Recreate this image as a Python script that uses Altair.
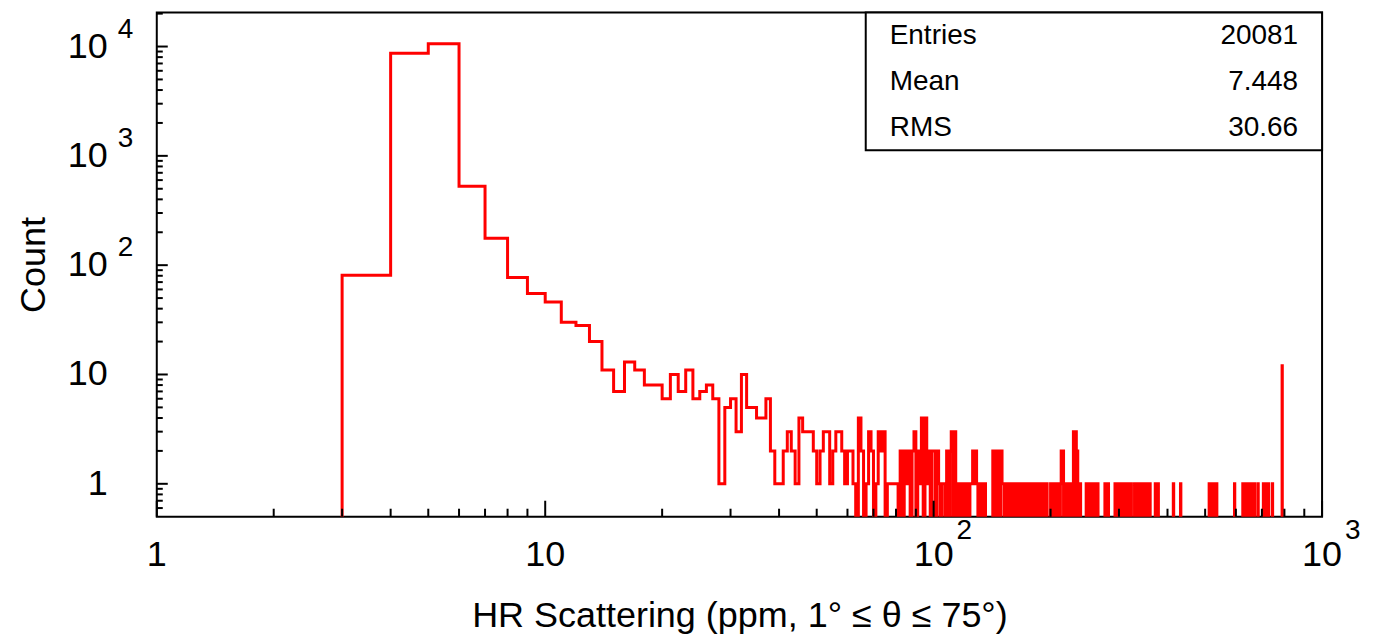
import altair as alt
import pandas as pd

# ---------------- data ----------------
# histogram with bins of width 1 (low edge -> count); bins not listed are empty
bin_edges = [
    3, 4, 5, 6, 7, 8, 9, 10, 11, 12, 13, 14, 15, 16, 17, 18, 19, 20, 21, 22,
    23, 24, 25, 26, 27, 28, 29, 30, 31, 32, 33, 34, 35, 36, 37,
    38, 39, 40, 41, 42, 43, 44, 45, 46, 47, 48, 49, 50, 51, 52, 53, 54, 55,
    56, 57, 58, 59, 60, 61, 62, 64, 65, 67, 68, 69, 71, 72, 73, 74,
    76, 77, 78, 79, 80, 82, 84, 85, 86, 88, 89, 91, 92, 93, 95, 96, 97,
    99, 100, 102, 103, 105, 106, 108, 110, 111, 113, 114,
    116, 118, 119, 121, 122, 124, 125, 126, 127, 128, 129, 131, 132, 134, 135,
    142, 144, 145, 147, 149, 150,
    151, 153, 154, 156, 157, 159, 160, 162,
    165, 166, 168, 170, 171, 173, 175, 176, 178, 179,
    183, 185, 186, 188, 190, 191, 193, 195,
    200, 202, 203, 205, 207, 208, 210, 212,
    213, 214, 215, 217, 219, 222, 224, 226,
    229, 230, 231, 232, 234, 235, 236, 238,
    247, 249, 251, 256, 258, 260, 262, 264,
    276, 278, 281, 293, 296, 299, 302,
    307, 310, 313, 316, 319, 322,
    329, 335, 341, 347, 353, 360,
    372, 378, 414, 432,
    512, 519, 527, 535, 595, 625, 636, 646, 658, 670, 684, 706, 719, 728, 745,
    789,
]
bin_counts = [
    81, 8690, 10590, 526, 176, 77, 55, 46, 30, 28, 20, 11, 7, 13, 11, 8, 8, 6, 10, 7,
    11, 6, 7, 8, 6, 1, 5, 6, 3, 10, 5, 5, 4, 4, 6,
    2, 1, 1, 2, 3, 2, 1, 4, 3, 3, 3, 2, 1, 2, 3, 3, 1, 2,
    3, 3, 2, 1, 2, 2, 1, 4, 2, 1, 3, 2, 1, 3, 2, 3,
    1, 1, 1, 1, 1, 2, 2, 1, 2, 2, 3, 2, 1, 4, 4, 1, 2,
    2, 2, 2, 1, 1, 1, 2, 2, 3, 3, 1,
    1, 1, 1, 1, 1, 1, 1, 2, 1, 2, 1, 1, 1, 1, 1,
    2, 2, 1, 2, 2, 1,
    1, 1, 1, 1, 1, 1, 1, 1,
    1, 1, 1, 1, 1, 1, 1, 1, 1, 1,
    1, 1, 1, 1, 1, 1, 1, 1,
    1, 1, 1, 1, 1, 1, 1, 1,
    2, 1, 2, 1, 1, 1, 1, 1,
    3, 2, 1, 3, 2, 1, 1, 1,
    1, 1, 1, 1, 1, 1, 1, 1,
    1, 1, 1, 1, 1, 1, 1,
    1, 1, 1, 1, 1, 1,
    1, 1, 1, 1, 1, 1,
    1, 1, 1, 1,
    1, 1, 1, 1, 1, 1, 1, 1, 1, 1, 1, 1, 1, 1, 1,
    12,
]

x_major = [1, 10, 100, 1000]
x_major_base = ["1", "10", "10", "10"]
x_major_exp = ["", "", "2", "3"]
y_major = [1, 10, 100, 1000, 10000]
y_major_base = ["1", "10", "10", "10", "10"]
y_major_exp = ["", "", "2", "3", "4"]

stat_names = ["Entries", "Mean", "RMS"]
stat_values = ["20081", "7.448", "30.66"]

x_title = "HR Scattering (ppm, 1° ≤ θ ≤ 75°)"
y_title = "Count"

# ---------------- build tables ----------------
W, H = 1167, 505
FONT = "Liberation Sans"
RED = "#ff0000"

lookup = dict(zip(bin_edges, bin_counts))
rows = []
for e in range(1, 1000):
    c = lookup.get(e, 0)
    rows.append({"x": e, "y": c if c > 0 else 0.01})
rows.append({"x": 1000, "y": rows[-1]["y"]})
hist = pd.DataFrame(rows)

x_minor = [m * 10 ** k for k in range(0, 3) for m in range(2, 10)]
y_minor = [m * 10.0 ** k for k in range(-1, 5) for m in range(2, 10)
           if 0.5 < m * 10.0 ** k < 20500]

xscale = alt.Scale(type="log", domain=[1, 1000], nice=False)
yscale = alt.Scale(type="log", domain=[0.5, 20500], nice=False)

xaxis = alt.Axis(title=x_title, labels=False, ticks=False, domain=False, grid=False,
                 titleFont=FONT, titleFontSize=36, titleFontWeight="normal",
                 titleColor="black", titlePadding=82)
yaxis = alt.Axis(title=y_title, labels=False, ticks=False, domain=False, grid=False,
                 titleFont=FONT, titleFontSize=36, titleFontWeight="normal",
                 titleColor="black", titlePadding=104)


def X(f):
    return alt.X(f, type="quantitative", scale=xscale, axis=xaxis)


def Y(f):
    return alt.Y(f, type="quantitative", scale=yscale, axis=yaxis)


line = alt.Chart(hist).mark_line(
    interpolate="step-after", color=RED, strokeWidth=3, clip=True
).encode(x=X("x"), y=Y("y"))

xt_major = alt.Chart(pd.DataFrame({"v": x_major})).mark_rule(
    color="black", strokeWidth=2).encode(x=X("v"), y=alt.value(H), y2=alt.value(H - 16))
xt_minor = alt.Chart(pd.DataFrame({"v": x_minor})).mark_rule(
    color="black", strokeWidth=2).encode(x=X("v"), y=alt.value(H), y2=alt.value(H - 8))
yt_major = alt.Chart(pd.DataFrame({"v": y_major})).mark_rule(
    color="black", strokeWidth=2).encode(y=Y("v"), x=alt.value(0), x2=alt.value(11))
yt_minor = alt.Chart(pd.DataFrame({"v": y_minor})).mark_rule(
    color="black", strokeWidth=2).encode(y=Y("v"), x=alt.value(0), x2=alt.value(6))

xl = pd.DataFrame({"v": x_major, "base": x_major_base, "exp": x_major_exp})
yl = pd.DataFrame({"v": y_major, "base": y_major_base, "exp": y_major_exp})

x_lab = alt.Chart(xl).mark_text(font=FONT, fontSize=36, align="center",
                                baseline="middle", color="black").encode(
    x=X("v"), y=alt.value(H + 38), text="base:N")
x_exp = alt.Chart(xl).mark_text(font=FONT, fontSize=28, align="left",
                                baseline="middle", dx=23, color="black").encode(
    x=X("v"), y=alt.value(H + 14), text="exp:N")
y_lab = alt.Chart(yl).mark_text(font=FONT, fontSize=36, align="right",
                                baseline="middle", color="black").encode(
    y=Y("v"), x=alt.value(-49), text="base:N")
y_exp = alt.Chart(yl).mark_text(font=FONT, fontSize=28, align="left",
                                baseline="middle", dy=-17, color="black").encode(
    y=Y("v"), x=alt.value(-39), text="exp:N")

one = pd.DataFrame({"a": [0]})
box = alt.Chart(one).mark_rect(fill="white", stroke="black", strokeWidth=2).encode(
    x=alt.value(710), x2=alt.value(W), y=alt.value(0), y2=alt.value(138))

stat_layers = []
for i, (nm, vl) in enumerate(zip(stat_names, stat_values)):
    d = pd.DataFrame({"n": [nm], "v": [vl]})
    stat_layers.append(alt.Chart(d).mark_text(
        font=FONT, fontSize=28, align="left", baseline="middle", color="black").encode(
        x=alt.value(734), y=alt.value(24 + 46 * i), text="n:N"))
    stat_layers.append(alt.Chart(d).mark_text(
        font=FONT, fontSize=28, align="right", baseline="middle", color="black").encode(
        x=alt.value(1143), y=alt.value(24 + 46 * i), text="v:N"))

chart = alt.layer(
    line, xt_minor, xt_major, yt_minor, yt_major, x_lab, x_exp, y_lab, y_exp, box,
    *stat_layers
).properties(
    width=W, height=H,
    padding={"left": 149, "top": 4, "right": 44, "bottom": 119},
    autosize=alt.AutoSizeParams(type="none"),
    background="white",
).configure_view(
    stroke="black", strokeWidth=2
)

chart.save("out.html", embed_options={"renderer": "svg", "actions": False})
